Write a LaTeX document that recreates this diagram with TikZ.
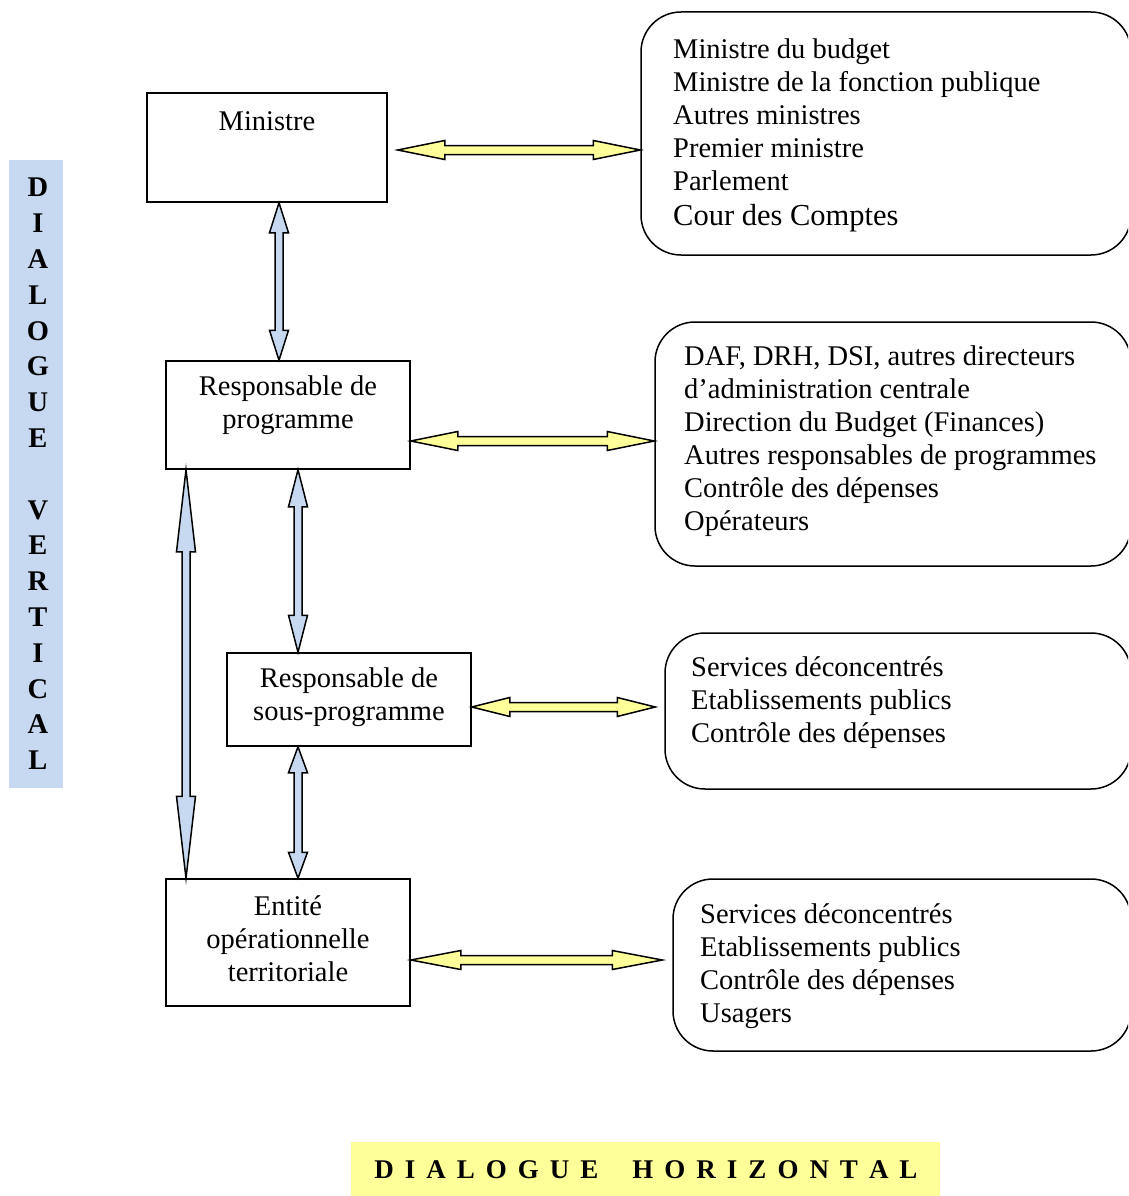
\documentclass[tikz,border=0pt]{standalone}
\usepackage{fontspec}
\setmainfont{Liberation Serif}
\usetikzlibrary{calc}
\definecolor{bandblue}{HTML}{C6D9F1}
\definecolor{softyellow}{HTML}{FFFF99}
\newcommand{\dblarrow}[6]{%
  \coordinate (h1) at ($(#2)!#6!(#3)$);
  \coordinate (h2) at ($(#3)!#6!(#2)$);
  \draw[#1] (#2) -- ($(h1)!#5!90:(#3)$) -- ($(h1)!#4!90:(#3)$) -- ($(h2)!#4!-90:(#2)$)
    -- ($(h2)!#5!-90:(#2)$) -- (#3) -- ($(h2)!#5!90:(#2)$) -- ($(h2)!#4!90:(#2)$)
    -- ($(h1)!#4!-90:(#3)$) -- ($(h1)!#5!-90:(#3)$) -- cycle;}
\begin{document}
\begin{tikzpicture}[x=1pt,y=-1pt,
  sbox/.style={draw, line width=1.5pt, minimum width=#1, inner sep=0pt},
  rbox/.style={draw, line width=1.5pt, rounded corners=40pt, inner sep=0pt},
  body/.style={font=\fontsize{28.5}{33}\selectfont, inner sep=0pt},
  listtext/.style={body, align=left, anchor=north west},
  yarrow/.style={draw=black, fill=softyellow, line width=1.5pt, line join=miter},
  barrow/.style={draw=black, fill=bandblue, line width=1.5pt, line join=miter}]
\path[use as bounding box] (0,0) rectangle (1128,1196);
\clip (0,0) rectangle (1128,1196);

% vertical band
\node[fill=bandblue, minimum width=54, minimum height=628, inner sep=0pt] (band) at (36,474) {};
\node[font=\bfseries\fontsize{28.5}{35.8}\selectfont, align=center, inner sep=0pt] (bandtext) at (38,474)
  {D\\I\\A\\L\\O\\G\\U\\E\\\mbox{}\\V\\E\\R\\T\\I\\C\\A\\L};

% horizontal band
\node[fill=softyellow, minimum width=589, minimum height=54, inner sep=0pt] (hband) at (645.5,1169) {};
\node[font=\bfseries\fontsize{27}{30}\selectfont, inner sep=0pt] (htext) at (646,1170)
  {\def\s{\hspace{11pt}}D\s I\s A\s L\s O\s G\s U\s E\hspace{34pt}H\s O\s R\s I\s Z\s O\s N\s T\s A\s L};

% left boxes
\node[sbox=240, minimum height=109] (min) at (267,147.5) {};
\node[body] (minT) at (267,121) {Ministre};
\node[sbox=244, minimum height=108] (prog) at (288,415) {};
\node[body, align=center] (progT) at (288,405) {Responsable de\\programme};
\node[sbox=244, minimum height=93] (sous) at (349,699.5) {};
\node[body, align=center] (sousT) at (349,697.5) {Responsable de\\sous-programme};
\node[sbox=244, minimum height=127] (ent) at (288,942.5) {};
\node[body, align=center] (entT) at (288,939) {Entité\\opérationnelle\\territoriale};

% right rounded boxes
\node[rbox, minimum width=490, minimum height=243] (r1) at (886,133.5) {};
\node[listtext] (r1T) at (673,39) {Ministre du budget\\Ministre de la fonction publique\\Autres ministres\\Premier ministre\\Parlement\\[2pt]{\fontsize{30.5}{35}\selectfont Cour des Comptes}};
\node[rbox, minimum width=476, minimum height=244] (r2) at (893,444) {};
\node[listtext] (r2T) at (684,346) {DAF, DRH, DSI, autres directeurs\\d’administration centrale\\Direction du Budget (Finances)\\Autres responsables de programmes\\Contrôle des dépenses\\Opérateurs};
\node[rbox, minimum width=466, minimum height=156] (r3) at (898,711) {};
\node[listtext] (r3T) at (691,656) {Services déconcentrés\\Etablissements publics\\Contrôle des dépenses};
\node[rbox, minimum width=458, minimum height=172] (r4) at (902,965) {};
\node[listtext] (r4T) at (700,903) {Services déconcentrés\\Etablissements publics\\Contrôle des dépenses\\Usagers};

% horizontal arrows
\coordinate (a1s) at ($(min.east)+(10,2.5)$);
\coordinate (a1e) at (r1.west |- a1s);
\dblarrow{yarrow}{a1s}{a1e}{4.5pt}{9.5pt}{47pt}
\coordinate (a2s) at ($(prog.east)+(0,26)$);
\coordinate (a2e) at (r2.west |- a2s);
\dblarrow{yarrow}{a2s}{a2e}{4.5pt}{9.5pt}{47pt}
\coordinate (a3s) at ($(sous.east)+(0,7.5)$);
\coordinate (a3e) at ($(r3.west |- a3s)+(-9,0)$);
\dblarrow{yarrow}{a3s}{a3e}{4.5pt}{9.5pt}{38pt}
\coordinate (a4s) at ($(ent.east)+(0,17.5)$);
\coordinate (a4e) at ($(r4.west |- a4s)+(-10,0)$);
\dblarrow{yarrow}{a4s}{a4e}{4.5pt}{9.5pt}{50pt}

% vertical arrows
\coordinate (v1s) at ($(min.south)+(12,0)$);
\coordinate (v1e) at (prog.north -| v1s);
\dblarrow{barrow}{v1s}{v1e}{4pt}{9.5pt}{30pt}
\coordinate (v2s) at ($(prog.south)+(10,0)$);
\coordinate (v2e) at (sous.north -| v2s);
\dblarrow{barrow}{v2s}{v2e}{4pt}{9.5pt}{37pt}
\coordinate (v3s) at (sous.south -| v2s);
\coordinate (v3e) at (ent.north -| v2s);
\dblarrow{barrow}{v3s}{v3e}{4pt}{9.5pt}{26pt}
\coordinate (v4s) at ($(prog.south)+(-102,0)$);
\coordinate (v4e) at (ent.north -| v4s);
\dblarrow{barrow}{v4s}{v4e}{4pt}{9.5pt}{82pt}
\end{tikzpicture}
\end{document}
